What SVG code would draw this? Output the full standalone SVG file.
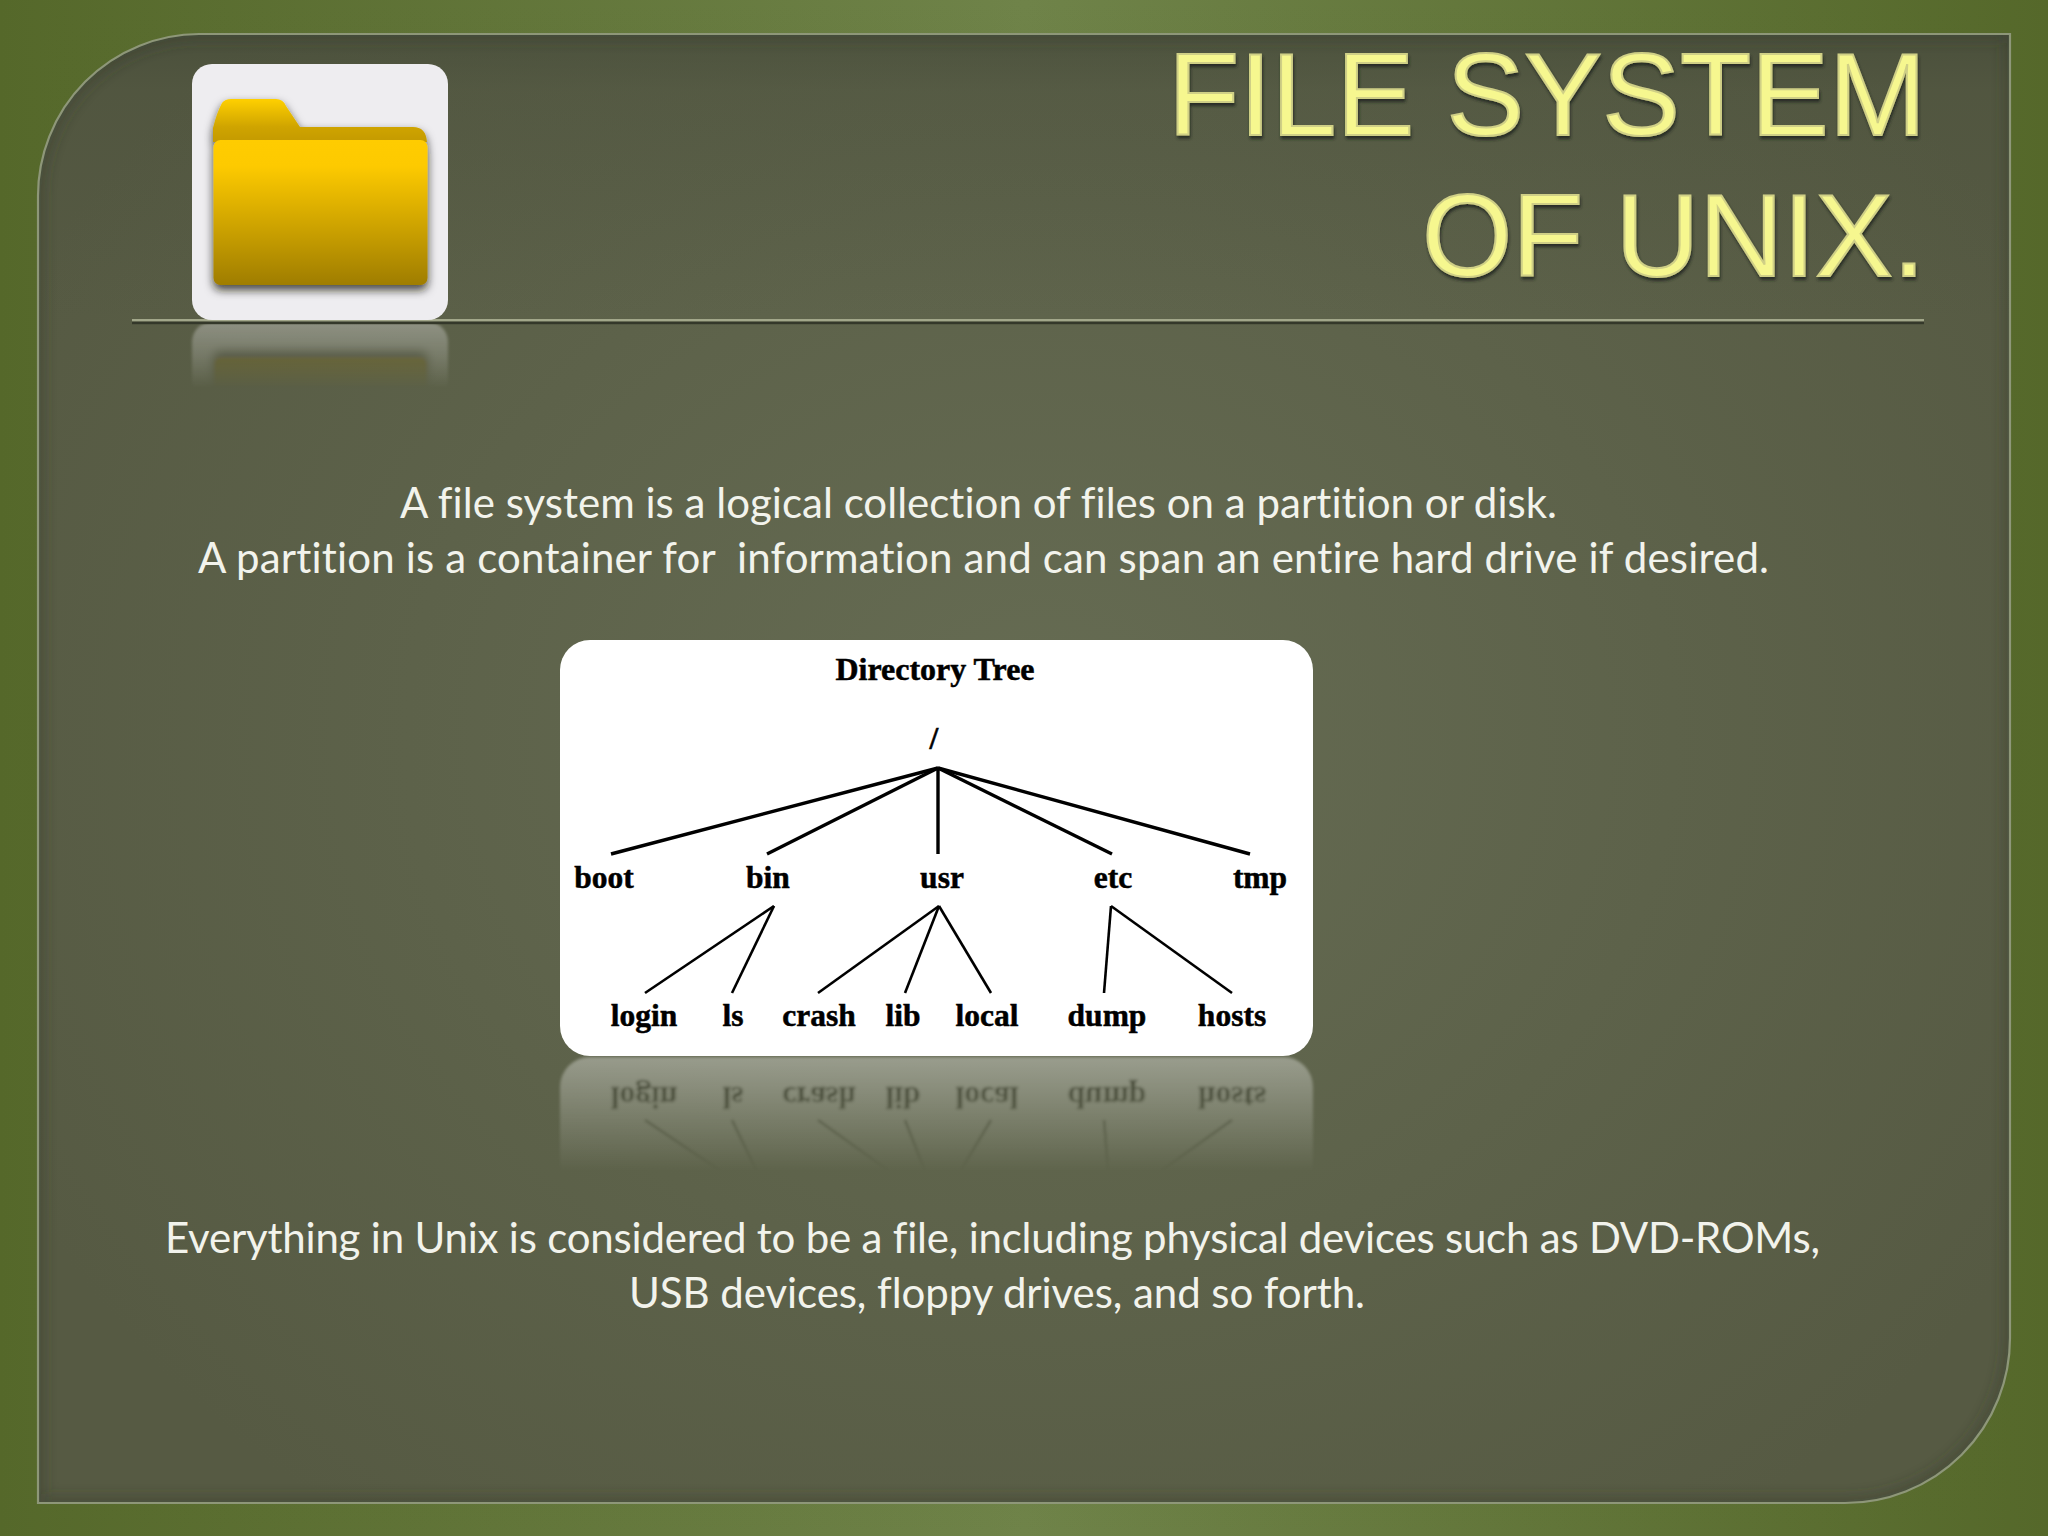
<svg xmlns="http://www.w3.org/2000/svg" xmlns:xlink="http://www.w3.org/1999/xlink" width="2048" height="1536" viewBox="0 0 2048 1536">
<style>
.body{font-family:"Lato","Open Sans","Liberation Sans",sans-serif;font-size:42px;fill:#f2f3ec;white-space:pre;font-variant-ligatures:none}
.title{font-family:"Liberation Sans",Arial,sans-serif;font-size:117px;fill:#f6f78f;stroke:#cfcf86;stroke-width:2px}
.tl{font-family:"Liberation Serif","Times New Roman",serif;font-size:31.5px;font-weight:bold;fill:#000;stroke:#000;stroke-width:.5px;text-anchor:middle}
.edge{stroke:#000;fill:none;stroke-linecap:butt}
.e1{stroke-width:3.4px}
.e2{stroke-width:2.6px}
</style>
<defs>
<linearGradient id="bg" x1="0" x2="1" y1="0" y2="0"><stop offset="0" stop-color="#55682a"/><stop offset=".5" stop-color="#6f8349"/><stop offset="1" stop-color="#55682a"/></linearGradient>
<linearGradient id="bgv" x1="0" x2="0" y1="0" y2="1"><stop offset="0" stop-color="#55682a" stop-opacity="0"/><stop offset=".5" stop-color="#55682a" stop-opacity=".6"/><stop offset="1" stop-color="#55682a" stop-opacity="0"/></linearGradient>
<radialGradient id="panel" gradientUnits="userSpaceOnUse" cx="1040" cy="740" r="1150" gradientTransform="translate(1040 740) scale(1 .85) translate(-1040 -740)"><stop offset="0" stop-color="#666c53"/><stop offset=".55" stop-color="#5d624a"/><stop offset="1" stop-color="#565a43"/></radialGradient>
<linearGradient id="topShade" gradientUnits="userSpaceOnUse" x1="0" y1="34" x2="0" y2="320"><stop offset="0" stop-color="#3f4634" stop-opacity=".5"/><stop offset=".2" stop-color="#3f4634" stop-opacity=".2"/><stop offset="1" stop-color="#3f4634" stop-opacity="0"/></linearGradient>
<clipPath id="panelClip"><path d="M199 34H2010V1338A165 165 0 0 1 1845 1503H38V196A162 162 0 0 1 199 34Z"/></clipPath>
<filter id="blur8" x="-5%" y="-5%" width="110%" height="110%"><feGaussianBlur stdDeviation="7"/></filter>
<filter id="blur1"><feGaussianBlur stdDeviation="1.4"/></filter>
<filter id="folderShadow" x="-15%" y="-15%" width="130%" height="130%"><feDropShadow dx="0" dy="5" stdDeviation="5" flood-color="#141409" flood-opacity=".8"/></filter>
<filter id="titleShadow" x="-5%" y="-10%" width="110%" height="125%"><feGaussianBlur in="SourceGraphic" stdDeviation=".6" result="s"/><feDropShadow in="s" dx="1" dy="3" stdDeviation="1.5" flood-color="#23271a" flood-opacity=".85"/></filter>
<linearGradient id="front" x1="0" x2="0" y1="0" y2="1"><stop offset="0" stop-color="#ffcc00"/><stop offset=".18" stop-color="#fdca00"/><stop offset="1" stop-color="#9f7d00"/></linearGradient>
<linearGradient id="back" gradientUnits="userSpaceOnUse" x1="0" x2="0" y1="99" y2="142"><stop offset="0" stop-color="#ffd000"/><stop offset=".65" stop-color="#cfa400"/><stop offset="1" stop-color="#c49a00"/></linearGradient>
<linearGradient id="fade1" gradientUnits="userSpaceOnUse" x1="0" x2="0" y1="1058" y2="1172"><stop offset="0" stop-color="#fff" stop-opacity=".36"/><stop offset=".5" stop-color="#fff" stop-opacity=".18"/><stop offset="1" stop-color="#fff" stop-opacity="0"/></linearGradient>
<linearGradient id="fade2" gradientUnits="userSpaceOnUse" x1="0" x2="0" y1="322" y2="388"><stop offset="0" stop-color="#fff" stop-opacity=".36"/><stop offset=".5" stop-color="#fff" stop-opacity=".2"/><stop offset="1" stop-color="#fff" stop-opacity="0"/></linearGradient>
<mask id="m1" maskUnits="userSpaceOnUse" x="500" y="1050" width="900" height="140"><rect x="500" y="1050" width="900" height="140" fill="url(#fade1)"/></mask>
<mask id="m2" maskUnits="userSpaceOnUse" x="150" y="318" width="340" height="80"><rect x="150" y="318" width="340" height="80" fill="url(#fade2)"/></mask>
</defs>

<g id="background">
<rect width="2048" height="1536" fill="url(#bg)"/>
<rect width="2048" height="1536" fill="url(#bgv)"/>
<path d="M199 34H2010V1338A165 165 0 0 1 1845 1503H38V196A162 162 0 0 1 199 34Z" fill="url(#panel)"/>
<rect x="38" y="34" width="1972" height="290" fill="url(#topShade)" clip-path="url(#panelClip)"/>
<g clip-path="url(#panelClip)"><path d="M199 34H2010V1338A165 165 0 0 1 1845 1503H38V196A162 162 0 0 1 199 34Z" fill="none" stroke="#33382a" stroke-opacity=".5" stroke-width="10" filter="url(#blur8)"/></g>
<path d="M199 34H2010V1338A165 165 0 0 1 1845 1503H38V196A162 162 0 0 1 199 34Z" fill="none" stroke="#8e9779" stroke-width="2.2"/>
</g>

<g id="icon-reflection" mask="url(#m2)"><g filter="url(#blur1)"><use href="#icon" xlink:href="#icon" transform="translate(0 642) scale(1 -1)"/></g></g>

<g id="rule">
<rect x="132" y="319" width="1792" height="2.600" fill="#a2a78a"/>
<rect x="132" y="321.600" width="1792" height="2.600" fill="#34382a"/>
</g>

<g id="icon">
<rect x="192" y="64" width="256" height="256" rx="20" fill="#eeedf0"/>
<g filter="url(#folderShadow)">
<path d="M213 142V128Q217 112 222 103Q225 99 231 99H276Q283 99 286 106L300 127H413Q426 127 427 142Z" fill="url(#back)"/>
<rect x="213.500" y="140" width="214" height="145" rx="7" fill="url(#front)"/>
</g>
</g>

<g id="title" filter="url(#titleShadow)">
<text class="title" x="1168" y="135" textLength="758" lengthAdjust="spacingAndGlyphs">FILE SYSTEM</text>
<text class="title" x="1422" y="276" textLength="503" lengthAdjust="spacingAndGlyphs">OF UNIX.</text>
</g>

<g id="intro-text">
<text class="body" x="400" y="518" textLength="1157">A file system is a logical collection of files on a partition or disk.</text>
<text class="body" x="198" y="573" textLength="1571">A partition is a container for  information and can span an entire hard drive if desired.</text>
</g>

<g id="tree-reflection" mask="url(#m1)"><g filter="url(#blur1)"><use href="#tree-figure" xlink:href="#tree-figure" transform="translate(0 2113) scale(1 -1)"/></g></g>

<g id="tree-figure">
<rect id="tree-card" x="560" y="640" width="753" height="416" rx="30" fill="#fff"/>
<g id="connectors">
<line class="edge e1" x1="938" y1="768" x2="611" y2="854"/>
<line class="edge e1" x1="938" y1="768" x2="767" y2="854"/>
<line class="edge e1" x1="938" y1="768" x2="938" y2="854"/>
<line class="edge e1" x1="938" y1="768" x2="1112" y2="854"/>
<line class="edge e1" x1="938" y1="768" x2="1250" y2="854"/>
<line class="edge e2" x1="774" y1="906" x2="645" y2="993"/>
<line class="edge e2" x1="774" y1="906" x2="732" y2="993"/>
<line class="edge e2" x1="939" y1="906" x2="818" y2="993"/>
<line class="edge e2" x1="939" y1="906" x2="905" y2="993"/>
<line class="edge e2" x1="939" y1="906" x2="991" y2="993"/>
<line class="edge e2" x1="1111" y1="906" x2="1104" y2="993"/>
<line class="edge e2" x1="1111" y1="906" x2="1232" y2="993"/>
</g>
<g id="node-heading"><text class="tl" x="935" y="680" textLength="199" lengthAdjust="spacingAndGlyphs">Directory Tree</text></g>
<g id="node-root"><text class="tl" x="934" y="749">/</text></g>
<g id="node-boot"><text class="tl" x="604" y="888">boot</text></g>
<g id="node-bin"><text class="tl" x="768" y="888">bin</text></g>
<g id="node-usr"><text class="tl" x="942" y="888">usr</text></g>
<g id="node-etc"><text class="tl" x="1113" y="888">etc</text></g>
<g id="node-tmp"><text class="tl" x="1260" y="888">tmp</text></g>
<g id="node-login"><text class="tl" x="644" y="1026">login</text></g>
<g id="node-ls"><text class="tl" x="733" y="1026">ls</text></g>
<g id="node-crash"><text class="tl" x="819" y="1026">crash</text></g>
<g id="node-lib"><text class="tl" x="903" y="1026">lib</text></g>
<g id="node-local"><text class="tl" x="987" y="1026">local</text></g>
<g id="node-dump"><text class="tl" x="1107" y="1026">dump</text></g>
<g id="node-hosts"><text class="tl" x="1232" y="1026">hosts</text></g>
</g>

<g id="outro-text">
<text class="body" x="165" y="1253" textLength="1655">Everything in Unix is considered to be a file, including physical devices such as DVD-ROMs,</text>
<text class="body" x="629" y="1308" textLength="736">USB devices, floppy drives, and so forth.</text>
</g>
</svg>
